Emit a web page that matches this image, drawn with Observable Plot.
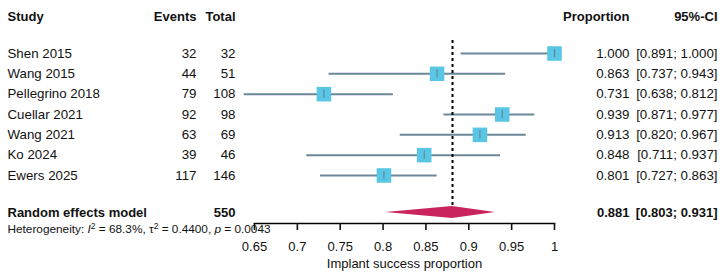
<!DOCTYPE html>
<html>
<head>
<meta charset="utf-8">
<script src="https://cdn.jsdelivr.net/npm/d3@7"></script>
<script src="https://cdn.jsdelivr.net/npm/@observablehq/plot@0.6"></script>
<style>
  html, body { margin: 0; padding: 0; background: #fff; }
  #chart svg { display: block; }
</style>
</head>
<body>
<div id="chart"></div>
<script>
// Forest plot: implant success proportion per study with a random effects pooled estimate
const studies   = ["Shen 2015", "Wang 2015", "Pellegrino 2018", "Cuellar 2021", "Wang 2021", "Ko 2024", "Ewers 2025"];
const events    = [32, 44, 79, 92, 63, 39, 117];
const totals    = [32, 51, 108, 98, 69, 46, 146];
const proportion = [1.000, 0.863, 0.731, 0.939, 0.913, 0.848, 0.801];
const ciLower   = [0.891, 0.737, 0.638, 0.871, 0.820, 0.711, 0.727];
const ciUpper   = [1.000, 0.943, 0.812, 0.977, 0.967, 0.937, 0.863];

const pooledLabel = "Random effects model";
const pooledTotal = 550;
const pooledEst   = 0.881;
const pooledLower = 0.803;
const pooledUpper = 0.931;

const hetI2 = "68.3%";
const hetTau2 = "0.4400";
const hetP = "0.0043";

const xTicks = [0.65, 0.7, 0.75, 0.8, 0.85, 0.9, 0.95, 1];
const xTickLabels = ["0.65", "0.7", "0.75", "0.8", "0.85", "0.9", "0.95", "1"];

const headers = ["Study", "Events", "Total", "Proportion", "95%-CI"];

// Row layout (in row units along y)
const headerRow = 0;
const firstRow = 1.82;
const studyRows = studies.map((_, i) => firstRow + i);
const pooledRow = studyRows[studyRows.length - 1] + 1.82;
const hetRow = pooledRow + 0.84;

const fmt3 = d3.format(".3f");
const ciText = (lo, hi) => `[${fmt3(lo)}; ${fmt3(hi)}]`;

const rows = studies.map((s, i) => ({
  study: s, events: events[i], total: totals[i],
  est: proportion[i], lo: ciLower[i], hi: ciUpper[i], row: studyRows[i]
}));

const diamond = [
  {x: pooledLower, y1: pooledRow, y2: pooledRow},
  {x: pooledEst, y1: pooledRow - 0.3, y2: pooledRow + 0.3},
  {x: pooledUpper, y1: pooledRow, y2: pooledRow}
];

const font = "'Liberation Sans', Arial, Helvetica, sans-serif";
const squareColor = "#58c6e4";
const lineColor = "#6b8799";
const diamondColor = "#c9245d";

// Column anchors: left table hangs off the frame's left edge, right table off its right edge
const colLeft = (opts) => ({frameAnchor: "left", ...opts});
const colRight = (opts) => ({frameAnchor: "right", ...opts});

const plot = Plot.plot({
  width: 725,
  height: 278,
  marginLeft: 254,
  marginRight: 171,
  marginTop: 0,
  marginBottom: 55,
  style: {fontFamily: font, fontSize: "13px", color: "#111", background: "#fff"},
  x: {domain: [0.65, 1]},
  y: {domain: [0, 10], range: [16, 16 + 203.3], axis: null},
  marks: [
    // header
    Plot.text([headers[0]], colLeft({y: () => headerRow, text: d => d, dx: -247, textAnchor: "start", fontWeight: "bold"})),
    Plot.text([headers[1]], colLeft({y: () => headerRow, text: d => d, dx: -58, textAnchor: "end", fontWeight: "bold"})),
    Plot.text([headers[2]], colLeft({y: () => headerRow, text: d => d, dx: -19, textAnchor: "end", fontWeight: "bold"})),
    Plot.text([headers[3]], colRight({y: () => headerRow, text: d => d, dx: 75, textAnchor: "end", fontWeight: "bold"})),
    Plot.text([headers[4]], colRight({y: () => headerRow, text: d => d, dx: 163, textAnchor: "end", fontWeight: "bold"})),

    // study table
    Plot.text(rows, colLeft({y: "row", text: "study", dx: -247, textAnchor: "start", fontSize: 13.3})),
    Plot.text(rows, colLeft({y: "row", text: d => String(d.events), dx: -58, textAnchor: "end", fontSize: 13.3})),
    Plot.text(rows, colLeft({y: "row", text: d => String(d.total), dx: -19, textAnchor: "end", fontSize: 13.3})),
    Plot.text(rows, colRight({y: "row", text: d => fmt3(d.est), dx: 75, textAnchor: "end", fontSize: 13.3})),
    Plot.text(rows, colRight({y: "row", text: d => ciText(d.lo, d.hi), dx: 163, textAnchor: "end", fontSize: 13.3})),

    // pooled row
    Plot.text([pooledLabel], colLeft({y: () => pooledRow, text: d => d, dx: -247, textAnchor: "start", fontWeight: "bold"})),
    Plot.text([pooledTotal], colLeft({y: () => pooledRow, text: d => String(d), dx: -19, textAnchor: "end", fontWeight: "bold"})),
    Plot.text([pooledEst], colRight({y: () => pooledRow, text: d => fmt3(d), dx: 75, textAnchor: "end", fontWeight: "bold"})),
    Plot.text([[pooledLower, pooledUpper]], colRight({y: () => pooledRow, text: d => ciText(d[0], d[1]), dx: 163, textAnchor: "end", fontWeight: "bold"})),

    // heterogeneity
    Plot.text([`Heterogeneity: I² = ${hetI2}, τ² = ${hetTau2}, p = ${hetP}`], colLeft({
      y: () => hetRow, text: d => d, dx: -247, textAnchor: "start", fontSize: 11.8
    })),

    // confidence intervals, boxes and point ticks
    Plot.ruleY(rows, {y: "row", x1: "lo", x2: "hi", stroke: lineColor, strokeWidth: 2}),
    Plot.dot(rows, {x: "est", y: "row", symbol: "square", r: 8.2, fill: squareColor, stroke: "none"}),
    Plot.ruleX(rows, {x: "est", y1: d => d.row - 0.2, y2: d => d.row + 0.2, stroke: "#6a7c88", strokeWidth: 1}),

    // pooled estimate reference line and diamond
    Plot.ruleX([pooledEst], {y1: firstRow - 0.64, y2: pooledRow - 0.34, stroke: "#000", strokeWidth: 2, strokeDasharray: "3,3"}),
    Plot.areaY(diamond, {x: "x", y1: "y1", y2: "y2", fill: diamondColor}),

    // x axis
    Plot.frame({anchor: "bottom", stroke: "#000", strokeWidth: 1.6}),
    Plot.axisX({ticks: xTicks, tickFormat: (d, i) => xTickLabels[i], tickSize: 7, tickPadding: 11, strokeWidth: 1.6, fontSize: 13, label: null}),
    Plot.text(["Implant success proportion"], {frameAnchor: "bottom", text: d => d, dy: 44, fontSize: 13})
  ]
});

document.getElementById("chart").appendChild(plot);

// Typeset the heterogeneity line with italics and superscripts
d3.select(plot).selectAll("text").each(function () {
  const t = this.textContent;
  if (!t.startsWith("Heterogeneity")) return;
  const el = d3.select(this);
  el.text(null);
  const parts = [
    {s: "Heterogeneity: "},
    {s: "I", italic: true},
    {s: "2", sup: true},
    {s: ` = ${hetI2}, τ`, down: true},
    {s: "2", sup: true},
    {s: ` = ${hetTau2}, `, down: true},
    {s: "p", italic: true},
    {s: ` = ${hetP}`}
  ];
  for (const p of parts) {
    const ts = el.append("tspan").text(p.s);
    if (p.italic) ts.attr("font-style", "italic");
    if (p.sup) ts.attr("font-size", 8.5).attr("dy", -4.5);
    if (p.down) ts.attr("dy", 4.5);
  }
});
</script>
</body>
</html>
